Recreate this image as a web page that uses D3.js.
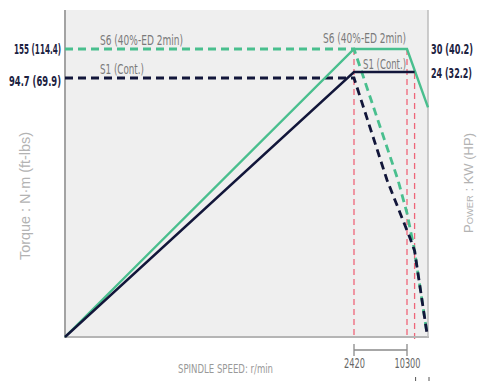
<!DOCTYPE html>
<html>
<head>
<meta charset="utf-8">
<script src="https://cdn.jsdelivr.net/npm/d3@7"></script>
<style>
  html, body { margin: 0; padding: 0; background: #ffffff; }
  svg { display: block; }
  .cond { font-family: "DejaVu Sans", sans-serif; font-stretch: condensed; }
</style>
</head>
<body>
<div id="chart"></div>
<script>
// ---- data ----
const speedBreaks = [0, 2420, 10300, 15000];          // schematic speed axis (r/min)
const speedLabels = [2420, 10300];
const redLineSpeeds = [2420, 10300, 12000];
const redLineTops = [155, 155, 94.7];                  // torque level where each guide starts

const torqueTicks = [155, 94.7];
const torqueFtLbs = [114.4, 69.9];
const powerTicks = [30, 24];
const powerHp = [40.2, 32.2];

const s6PowerSpeed = [0, 2420, 10300, 15000];
const s6PowerVal   = [0, 30, 30, 20.8];
const s1PowerSpeed = [0, 2420, 12000];
const s1PowerVal   = [0, 24, 24];

const s6TorqueSpeed = [0, 2420, 8960, 10300, 12000, 14800];
const s6TorqueVal   = [155, 155, 57.4, 45.3, 31.5, 1];
const s1TorqueSpeed = [0, 2420, 7330, 10970, 12000, 14800];
const s1TorqueVal   = [94.7, 94.7, 57.4, 36.2, 31.5, 1];

const seriesLabels = ["S6 (40%-ED 2min)", "S1 (Cont.)"];

// ---- layout ----
const W = 499, H = 381;
const pL = 65, pR = 428, pT = 10, pB = 337;
const green = "#49bf8e", navy = "#12163a", red = "#ee6679";

const x = d3.scaleLinear().domain(speedBreaks).range([pL, 354, 407, pR]);
const yT = d3.scaleLinear().domain([0, 94.7, 155]).range([pB, 78, 49]);
const yP = d3.scaleLinear().domain([0, 24, 30]).range([pB, 72, 49]);

const svg = d3.select("#chart").append("svg").attr("width", W).attr("height", H);

// fit text to the width it takes in the reference
function fit(sel, w) {
  sel.attr("textLength", w).attr("lengthAdjust", "spacingAndGlyphs");
}

// plot background
svg.append("rect").attr("x", pL).attr("y", pT).attr("width", pR - pL).attr("height", pB - pT)
  .attr("fill", "#efefef");

// red guide lines
svg.append("g").selectAll("line").data(redLineSpeeds).join("line")
  .attr("x1", d => x(d)).attr("x2", d => x(d))
  .attr("y1", (d, i) => yT(redLineTops[i]) - (i === 2 ? 5 : 0)).attr("y2", pB + 2)
  .attr("stroke", red).attr("stroke-width", 1.3).attr("stroke-dasharray", "6,4");

// borders
svg.append("line").attr("x1", pL).attr("x2", pL).attr("y1", pT).attr("y2", pB + 1)
  .attr("stroke", "#a3a3a3").attr("stroke-width", 2);
svg.append("line").attr("x1", pL).attr("x2", pR + 1).attr("y1", pB).attr("y2", pB)
  .attr("stroke", "#b5b5b5").attr("stroke-width", 2);
svg.append("line").attr("x1", pR).attr("x2", pR).attr("y1", pT).attr("y2", pB)
  .attr("stroke", "#bdbdbd").attr("stroke-width", 1.5);

const zip = (a, b) => a.map((v, i) => [v, b[i]]);
const lineT = d3.line().x(d => x(d[0])).y(d => yT(d[1]));
const lineP = d3.line().x(d => x(d[0])).y(d => yP(d[1]));

// torque (dashed)
svg.append("path").attr("d", lineT(zip(s6TorqueSpeed, s6TorqueVal)))
  .attr("fill", "none").attr("stroke", green).attr("stroke-width", 2.8).attr("stroke-dasharray", "8,5");
svg.append("path").attr("d", lineT(zip(s1TorqueSpeed, s1TorqueVal)))
  .attr("fill", "none").attr("stroke", navy).attr("stroke-width", 2.8).attr("stroke-dasharray", "8,5");

// power (solid)
svg.append("path").attr("d", lineP(zip(s6PowerSpeed, s6PowerVal)))
  .attr("fill", "none").attr("stroke", green).attr("stroke-width", 2.4);
svg.append("path").attr("d", lineP(zip(s1PowerSpeed, s1PowerVal)))
  .attr("fill", "none").attr("stroke", navy).attr("stroke-width", 2.4);

// series labels
const lab = svg.append("g").attr("class", "cond").attr("fill", "#7a7a7a").attr("font-size", 13.5);
lab.append("text").attr("x", 100).attr("y", 45).text(seriesLabels[0]).call(fit, 83);
lab.append("text").attr("x", 100).attr("y", 74).text(seriesLabels[1]).call(fit, 44);
lab.append("text").attr("x", 323).attr("y", 43).text(seriesLabels[0]).call(fit, 83);
lab.append("text").attr("x", 363).attr("y", 69).text(seriesLabels[1]).call(fit, 43);

// left axis (torque)
const leftW = [47, 52];
const axL = svg.append("g").attr("transform", `translate(${pL},0)`)
  .call(d3.axisLeft(yT).tickValues(torqueTicks).tickSize(0).tickPadding(4)
    .tickFormat((d, i) => `${d} (${torqueFtLbs[i]})`));
axL.select(".domain").remove();
axL.selectAll("text").attr("class", "cond").attr("font-size", 13.5).attr("font-weight", "bold")
  .attr("fill", "#1c2241").attr("font-family", null)
  .each(function(d, i) { d3.select(this).call(fit, leftW[i]); });
axL.selectAll(".tick").filter(d => d === 94.7).select("text").attr("dy", "0.55em");

// right axis (power)
const rightW = [42, 41];
const axR = svg.append("g").attr("transform", `translate(${pR},0)`)
  .call(d3.axisRight(yP).tickValues(powerTicks).tickSize(0).tickPadding(3)
    .tickFormat((d, i) => `${d} (${powerHp[i]})`));
axR.select(".domain").remove();
axR.selectAll("text").attr("class", "cond").attr("font-size", 13.5).attr("font-weight", "bold")
  .attr("fill", "#1c2241").attr("font-family", null)
  .each(function(d, i) { d3.select(this).call(fit, rightW[i]); });
axR.selectAll(".tick").filter(d => d === 24).select("text").attr("dy", "0.42em");

// speed bracket + labels
const bx = svg.append("g").attr("stroke", "#8a8a8a").attr("stroke-width", 1.3);
bx.append("line").attr("x1", x(speedLabels[0])).attr("x2", x(speedLabels[1])).attr("y1", 350).attr("y2", 350);
bx.selectAll(".end").data(speedLabels).join("line").attr("class", "end")
  .attr("x1", d => x(d)).attr("x2", d => x(d)).attr("y1", 344).attr("y2", 356);
const bottomW = [21, 26];
const axB = svg.append("g").attr("transform", `translate(0,358)`)
  .call(d3.axisBottom(x).tickValues(speedLabels).tickSize(0).tickPadding(0).tickFormat(d3.format("d")));
axB.select(".domain").remove();
axB.selectAll("text").attr("class", "cond").attr("font-size", 13.5).attr("fill", "#666")
  .attr("font-family", null)
  .each(function(d, i) { d3.select(this).call(fit, bottomW[i]); });

// small cut-off ticks at the very bottom
svg.append("g").selectAll("line").data([12000, 15000]).join("line")
  .attr("x1", d => x(d) + 1).attr("x2", d => x(d) + 1).attr("y1", 377).attr("y2", 381)
  .attr("stroke", "#555").attr("stroke-width", 1);

// axis titles
svg.append("text").attr("class", "cond").attr("x", 178).attr("y", 373)
  .attr("font-size", 13).attr("fill", "#999").text("SPINDLE SPEED: r/min").call(fit, 95);
svg.append("text").attr("transform", "translate(30,196) rotate(-90)").attr("text-anchor", "middle")
  .attr("font-family", "Liberation Sans, Arial, sans-serif").attr("font-size", 14).attr("fill", "#b3b3b3")
  .text("Torque : N·m (ft-lbs)").call(fit, 128);
svg.append("text").attr("transform", "translate(473,183) rotate(-90)").attr("text-anchor", "middle")
  .attr("font-family", "Liberation Sans, Arial, sans-serif").attr("font-size", 12.5).attr("fill", "#b3b3b3")
  .attr("font-variant", "small-caps").text("Power : KW (HP)").call(fit, 100);
</script>
</body>
</html>
